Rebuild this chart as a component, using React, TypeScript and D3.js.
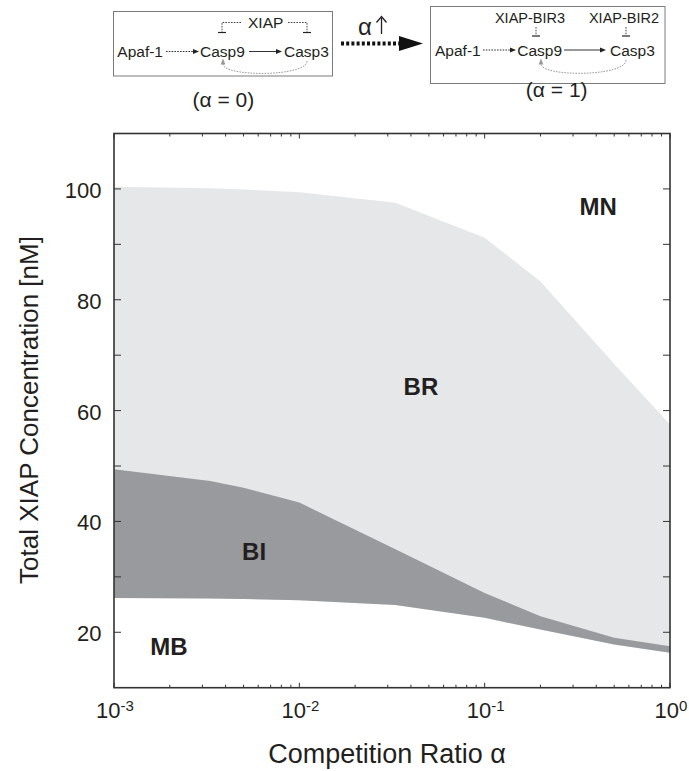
import React from "react";
import * as d3 from "d3";

const ALPHA = [0.001, 0.0033, 0.005, 0.01, 0.033, 0.1, 0.2, 0.5, 1];
const BR_UPPER = [100.4, 100.1, 99.9, 99.4, 97.5, 91.2, 83.3, 68.4, 57.5];
const BI_UPPER = [49.4, 47.3, 46.1, 43.4, 35.0, 27.1, 22.9, 19.0, 17.5];
const BI_LOWER = [26.2, 26.1, 26.0, 25.8, 24.9, 22.6, 20.5, 17.8, 16.3];

const X_MAJOR = [1e-3, 1e-2, 1e-1, 1];
const X_EXP = ["-3", "-2", "-1", "0"];
const Y_TICKS = [20, 30, 40, 50, 60, 70, 80, 90, 100];
const Y_LABELS = [20, 40, 60, 80, 100];

const REGIONS = [
  { name: "MN", a: 0.41, v: 95.3 },
  { name: "BR", a: 0.0453, v: 62.8 },
  { name: "BI", a: 0.0057, v: 33.1 },
  { name: "MB", a: 0.00198, v: 15.9 },
];

const FONT = "'Liberation Sans', Arial, Helvetica, sans-serif";

const W = 689;
const H = 771;
const M = { left: 114, right: 670, top: 133.5, bottom: 687.7 };

function Head({ x, y, dir, color, size = 6 }: { x: number; y: number; dir: "r" | "u"; color: string; size?: number }) {
  const h = size / 2;
  const pts =
    dir === "r"
      ? `${x},${y} ${x - size},${y - h * 0.8} ${x - size},${y + h * 0.8}`
      : `${x},${y} ${x - h * 0.8},${y + size} ${x + h * 0.8},${y + size}`;
  return <polygon points={pts} fill={color} />;
}

export default function App() {
  const x = d3.scaleLog().domain([1e-3, 1]).range([M.left, M.right]);
  const y = d3.scaleLinear().domain([10, 110]).range([M.bottom, M.top]);
  const idx = d3.range(ALPHA.length);

  const light = d3
    .area<number>()
    .x((i) => x(ALPHA[i]))
    .y0((i) => y(BI_LOWER[i]))
    .y1((i) => y(BR_UPPER[i]))(idx) as string;
  const dark = d3
    .area<number>()
    .x((i) => x(ALPHA[i]))
    .y0((i) => y(BI_LOWER[i]))
    .y1((i) => y(BI_UPPER[i]))(idx) as string;

  const minor: number[] = [];
  for (let d = -3; d < 0; d++) for (let k = 2; k <= 9; k++) minor.push(k * Math.pow(10, d));

  const dotted = "1.6 1.2";
  const txt = { fontFamily: FONT, fill: "#231f20" } as const;

  return (
    <div style={{ position: "absolute", left: 0, top: 0 }}>
      <svg width={W} height={H} style={{ display: "block", background: "#fff" }}>
        {/* ---------- schematic ---------- */}
        <g style={txt as any}>
          {/* left box */}
          <rect x={113.5} y={11.5} width={219} height={64.5} fill="none" stroke="#7a7a7a" strokeWidth={1} />
          <text x={117.3} y={57.3} fontSize={15.5}>Apaf-1</text>
          <text x={200} y={57.3} fontSize={15.5}>Casp9</text>
          <text x={284} y={57.3} fontSize={15.5}>Casp3</text>
          <text x={248} y={28.3} fontSize={15.5}>XIAP</text>
          <line x1={166} y1={51.5} x2={194} y2={51.5} stroke="#333" strokeWidth={1} strokeDasharray={dotted} />
          <Head x={199} y={51.5} dir="r" color="#222" />
          <line x1={249} y1={51.5} x2={277} y2={51.5} stroke="#333" strokeWidth={1} />
          <Head x={282} y={51.5} dir="r" color="#222" />
          <path d="M241,22.5 H222 V32" fill="none" stroke="#444" strokeWidth={1} strokeDasharray={dotted} />
          <line x1={218} y1={32.5} x2={226} y2={32.5} stroke="#222" strokeWidth={1.2} />
          <path d="M288,22.5 H307 V32" fill="none" stroke="#444" strokeWidth={1} strokeDasharray={dotted} />
          <line x1={303} y1={32.5} x2={311} y2={32.5} stroke="#222" strokeWidth={1.2} />
          <path d="M307,61 C307,77 223,77 223,64" fill="none" stroke="#999" strokeWidth={1} strokeDasharray={dotted} />
          <Head x={223} y={58.5} dir="u" color="#999" />
          <text x={223.3} y={107} fontSize={21} textAnchor="middle">(α = 0)</text>

          {/* middle arrow */}
          <text x={358} y={35} fontSize={24}>α</text>
          <line x1={381.5} y1={34} x2={381.5} y2={18} stroke="#231f20" strokeWidth={1.3} />
          <path d="M376.5,22.5 L381.5,16.5 L386.5,22.5" fill="none" stroke="#231f20" strokeWidth={1.3} />
          <line x1={341} y1={43.5} x2={400} y2={43.5} stroke="#111" strokeWidth={4} strokeDasharray="3 2.2" />
          <polygon points="399,36 423,43.5 399,51" fill="#111" />

          {/* right box */}
          <rect x={430.5} y={6.5} width={234.5} height={77} fill="none" stroke="#7a7a7a" strokeWidth={1} />
          <text x={530} y={23.3} fontSize={14.5} textAnchor="middle">XIAP-BIR3</text>
          <text x={624} y={23.3} fontSize={14.5} textAnchor="middle">XIAP-BIR2</text>
          <line x1={536} y1={27} x2={536} y2={35.5} stroke="#444" strokeWidth={1} strokeDasharray={dotted} />
          <line x1={532} y1={36} x2={540} y2={36} stroke="#222" strokeWidth={1.2} />
          <line x1={626} y1={27} x2={626} y2={35.5} stroke="#444" strokeWidth={1} strokeDasharray={dotted} />
          <line x1={622} y1={36} x2={630} y2={36} stroke="#222" strokeWidth={1.2} />
          <text x={435} y={55.7} fontSize={15.5}>Apaf-1</text>
          <text x={517.3} y={55.7} fontSize={15.5}>Casp9</text>
          <text x={610} y={55.7} fontSize={15.5}>Casp3</text>
          <line x1={483} y1={50} x2={511} y2={50} stroke="#333" strokeWidth={1} strokeDasharray={dotted} />
          <Head x={516} y={50} dir="r" color="#222" />
          <line x1={564} y1={50} x2={601} y2={50} stroke="#333" strokeWidth={1} />
          <Head x={606} y={50} dir="r" color="#222" />
          <path d="M626,60 C626,77 541,77 541,64" fill="none" stroke="#999" strokeWidth={1} strokeDasharray={dotted} />
          <Head x={541} y={58.5} dir="u" color="#999" />
          <text x={556.7} y={97} fontSize={21} textAnchor="middle">(α = 1)</text>
        </g>

        {/* ---------- plot ---------- */}
        <path d={light} fill="#e6e7e9" />
        <path d={dark} fill="#989a9d" />

        {REGIONS.map((r) => (
          <text key={r.name} x={x(r.a)} y={y(r.v)} fontSize={24} fontWeight="bold" textAnchor="middle" style={txt as any}>
            {r.name}
          </text>
        ))}

        {/* ticks */}
        <g stroke="#333" strokeWidth={1}>
          {Y_TICKS.map((t) => (
            <g key={"y" + t}>
              <line x1={M.left} x2={M.left + 7} y1={y(t)} y2={y(t)} />
              <line x1={M.right} x2={M.right - 7} y1={y(t)} y2={y(t)} />
            </g>
          ))}
          {X_MAJOR.map((t) => (
            <g key={"xm" + t}>
              <line x1={x(t)} x2={x(t)} y1={M.bottom} y2={M.bottom - 5} />
              <line x1={x(t)} x2={x(t)} y1={M.top} y2={M.top + 5} />
            </g>
          ))}
          {minor.map((t) => (
            <g key={"xn" + t}>
              <line x1={x(t)} x2={x(t)} y1={M.bottom} y2={M.bottom - 3} />
              <line x1={x(t)} x2={x(t)} y1={M.top} y2={M.top + 3} />
            </g>
          ))}
        </g>
        <rect x={M.left} y={M.top} width={M.right - M.left} height={M.bottom - M.top} fill="none" stroke="#333" strokeWidth={1.6} />

        {/* tick labels */}
        {Y_LABELS.map((t) => (
          <text key={"yl" + t} x={101.5} y={y(t) + 9} fontSize={22} textAnchor="end" style={txt as any}>
            {t}
          </text>
        ))}
        {X_MAJOR.map((t, i) => (
          <text key={"xl" + t} x={x(t) + 1} y={718.3} fontSize={22} textAnchor="middle" style={txt as any}>
            <tspan>10</tspan>
            <tspan dy={-7.6} fontSize={15}>{X_EXP[i]}</tspan>
          </text>
        ))}

        {/* axis titles */}
        <text x={387} y={763} fontSize={27} textAnchor="middle" style={txt as any}>
          Competition Ratio α
        </text>
        <text transform="translate(37.5,410) rotate(-90)" fontSize={26} textAnchor="middle" style={txt as any}>
          Total XIAP Concentration [nM]
        </text>
      </svg>
    </div>
  );
}
